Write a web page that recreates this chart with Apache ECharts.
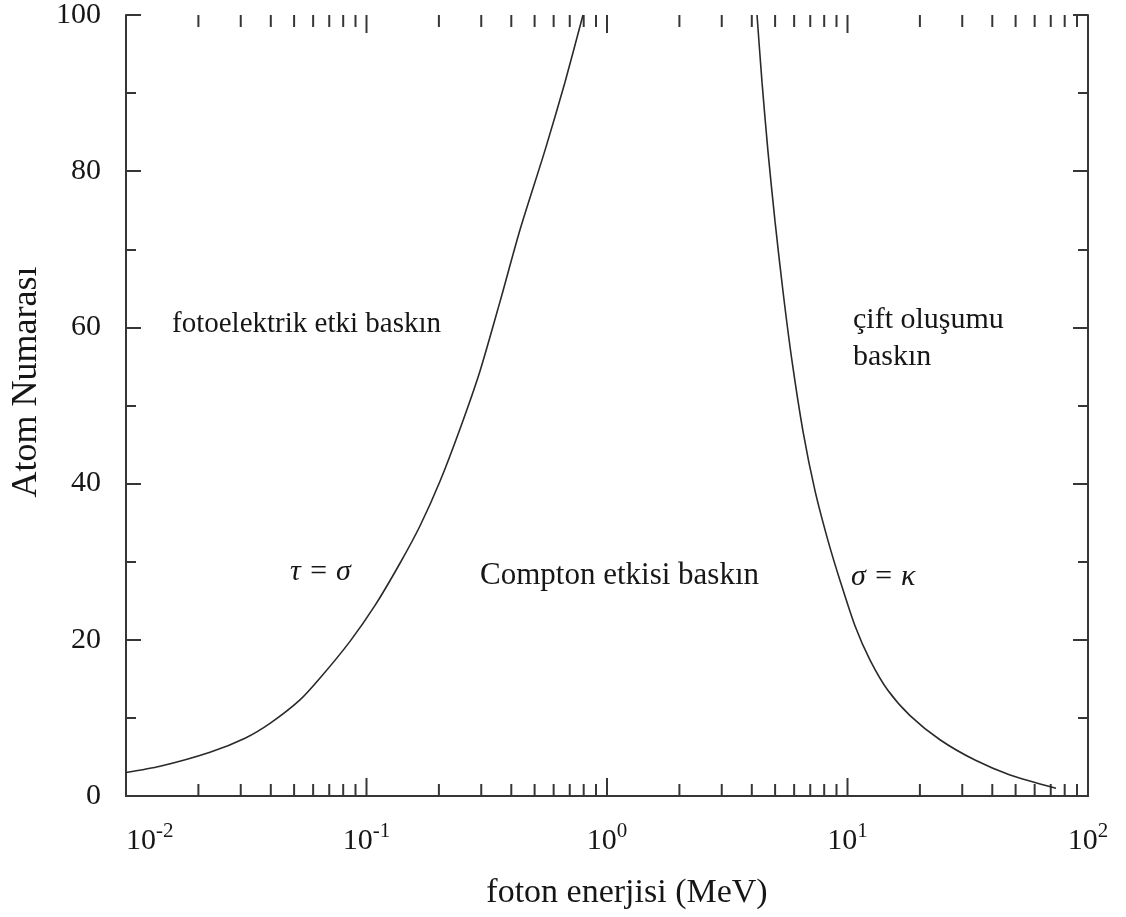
<!DOCTYPE html>
<html>
<head>
<meta charset="utf-8">
<title>Foton etkileşim bölgeleri</title>
<script src="https://cdn.jsdelivr.net/npm/echarts@6/dist/echarts.min.js"></script>
<style>
  html, body { margin: 0; padding: 0; background: #ffffff; }
  #chart { width: 1126px; height: 917px; }
</style>
</head>
<body>
<div id="chart"></div>
<script>
// Boundary τ = σ (photoelectric = Compton): photon energy (MeV) vs atomic number
const tauSigmaEnergy = [0.0100, 0.01385, 0.02235, 0.03125, 0.0397, 0.0529, 0.0641, 0.0854, 0.1085, 0.1378, 0.1670, 0.2021, 0.2447, 0.2963, 0.3590, 0.4348, 0.5526, 0.6688, 0.7947];
const tauSigmaZ      = [3.0, 3.8, 5.6, 7.4, 9.3, 12.3, 15.1, 19.8, 24.4, 29.8, 34.6, 40.3, 47.0, 54.4, 63.3, 72.5, 82.7, 91.4, 100];

// Boundary σ = κ (Compton = pair production)
const sigmaKappaEnergy = [4.205, 4.411, 4.671, 4.995, 5.393, 5.878, 6.531, 7.325, 8.297, 9.307, 10.74, 12.41, 14.74, 18.20, 24.24, 33.89, 47.39, 73.6];
const sigmaKappaZ      = [100, 91.4, 82.5, 73.6, 64.6, 55.7, 46.7, 39.1, 32.7, 27.6, 21.8, 17.4, 13.5, 10.3, 7.2, 4.6, 2.7, 1.0];

// Axis ticks
const decadeExponents = [-2, -1, 0, 1, 2];
const minorMultipliers = [2, 3, 4, 5, 6, 7, 8, 9];
const yTickLabels = [0, 20, 40, 60, 80, 100];

const SERIF = '"Liberation Serif", "DejaVu Serif", serif';
const INK = '#161616';
const FRAME = '#363636';

// tick positions on the log energy axis: [energy, tick length in px]
const logTicks = [];
decadeExponents.forEach(function (e, k) {
  logTicks.push([Math.pow(10, e), 18]);
  if (k < decadeExponents.length - 1) {
    minorMultipliers.forEach(function (m) {
      logTicks.push([m * Math.pow(10, e), 12]);
    });
  }
});

const chart = echarts.init(document.getElementById('chart'), null, { renderer: 'canvas' });

const axisLineStyle = { show: true, lineStyle: { color: FRAME, width: 2 } };

chart.setOption({
  backgroundColor: '#ffffff',
  animation: false,
  grid: { left: 126, right: 38, top: 13, bottom: 121, containLabel: false },
  xAxis: [
    {
      type: 'log', logBase: 10, min: 0.01, max: 100, splitNumber: 4,
      position: 'bottom',
      axisLine: axisLineStyle,
      axisTick: { show: false },
      splitLine: { show: false },
      axisLabel: {
        margin: 22,
        alignMinLabel: 'left',
        formatter: function (v) {
          const e = Math.round(Math.log10(v));
          return decadeExponents.indexOf(e) >= 0 ? '{b|10}{s|' + e + '}' : '';
        },
        rich: {
          b: { fontFamily: SERIF, fontSize: 30, color: INK, padding: [8, 0, 0, 0] },
          s: { fontFamily: SERIF, fontSize: 21, color: INK, padding: [0, 0, 12, 0] }
        }
      }
    },
    {
      type: 'log', logBase: 10, min: 0.01, max: 100, splitNumber: 4,
      position: 'top',
      axisLine: axisLineStyle,
      axisTick: { show: false },
      axisLabel: { show: false },
      splitLine: { show: false }
    }
  ],
  yAxis: [
    {
      type: 'value', min: 0, max: 100, interval: 20, position: 'left',
      axisLine: axisLineStyle,
      axisTick: { show: true, inside: true, length: 15, lineStyle: { color: FRAME, width: 2 } },
      minorTick: { show: true, splitNumber: 2, length: 10, lineStyle: { color: FRAME, width: 2 } },
      splitLine: { show: false },
      axisLabel: {
        margin: 25, fontFamily: SERIF, fontSize: 30, color: INK,
        formatter: function (v) { return yTickLabels.indexOf(v) >= 0 ? String(v) : ''; }
      }
    },
    {
      type: 'value', min: 0, max: 100, interval: 20, position: 'right',
      axisLine: axisLineStyle,
      axisTick: { show: true, inside: true, length: 15, lineStyle: { color: FRAME, width: 2 } },
      minorTick: { show: true, splitNumber: 2, length: 10, lineStyle: { color: FRAME, width: 2 } },
      splitLine: { show: false },
      axisLabel: { show: false }
    }
  ],
  series: [
    {
      name: 'τ = σ', type: 'line', xAxisIndex: 0, yAxisIndex: 0,
      data: tauSigmaEnergy.map(function (e, i) { return [e, tauSigmaZ[i]]; }),
      showSymbol: false, smooth: 0.25,
      lineStyle: { color: '#2a2a2a', width: 1.6 }
    },
    {
      name: 'σ = κ', type: 'line', xAxisIndex: 0, yAxisIndex: 0,
      data: sigmaKappaEnergy.map(function (e, i) { return [e, sigmaKappaZ[i]]; }),
      showSymbol: false, smooth: 0.25,
      lineStyle: { color: '#2a2a2a', width: 1.6 }
    },
    {
      // decade and 2..9 ticks on the bottom and top frame, pointing inward
      name: 'energyTicks', type: 'custom', xAxisIndex: 0, yAxisIndex: 0,
      silent: true, clip: false,
      data: logTicks,
      renderItem: function (params, api) {
        const len = api.value(1);
        const bottom = api.coord([api.value(0), 0]);
        const top = api.coord([api.value(0), 100]);
        const style = { stroke: FRAME, lineWidth: 2 };
        return {
          type: 'group',
          children: [
            { type: 'line', shape: { x1: bottom[0], y1: bottom[1], x2: bottom[0], y2: bottom[1] - len }, style: style },
            { type: 'line', shape: { x1: top[0], y1: top[1], x2: top[0], y2: top[1] + len }, style: style }
          ]
        };
      }
    }
  ],
  graphic: [
    { type: 'text', x: 627, y: 893, style: { text: 'foton enerjisi (MeV)', font: '34px ' + SERIF, fill: INK, align: 'center', verticalAlign: 'middle' } },
    { type: 'text', x: 27, y: 382, rotation: Math.PI / 2, style: { text: 'Atom Numarası', font: '36px ' + SERIF, fill: INK, align: 'center', verticalAlign: 'middle' } },
    { type: 'text', x: 172, y: 324, style: { text: 'fotoelektrik etki baskın', font: '29px ' + SERIF, fill: INK, align: 'left', verticalAlign: 'middle' } },
    { type: 'text', x: 290, y: 572, style: { text: 'τ = σ', font: 'italic 30px ' + SERIF, fill: INK, align: 'left', verticalAlign: 'middle' } },
    { type: 'text', x: 480, y: 576, style: { text: 'Compton etkisi baskın', font: '31px ' + SERIF, fill: INK, align: 'left', verticalAlign: 'middle' } },
    { type: 'text', x: 853, y: 320, style: { text: 'çift oluşumu', font: '30px ' + SERIF, fill: INK, align: 'left', verticalAlign: 'middle' } },
    { type: 'text', x: 853, y: 357, style: { text: 'baskın', font: '30px ' + SERIF, fill: INK, align: 'left', verticalAlign: 'middle' } },
    { type: 'text', x: 851, y: 577, style: { text: 'σ = κ', font: 'italic 30px ' + SERIF, fill: INK, align: 'left', verticalAlign: 'middle' } }
  ]
});
</script>
</body>
</html>
